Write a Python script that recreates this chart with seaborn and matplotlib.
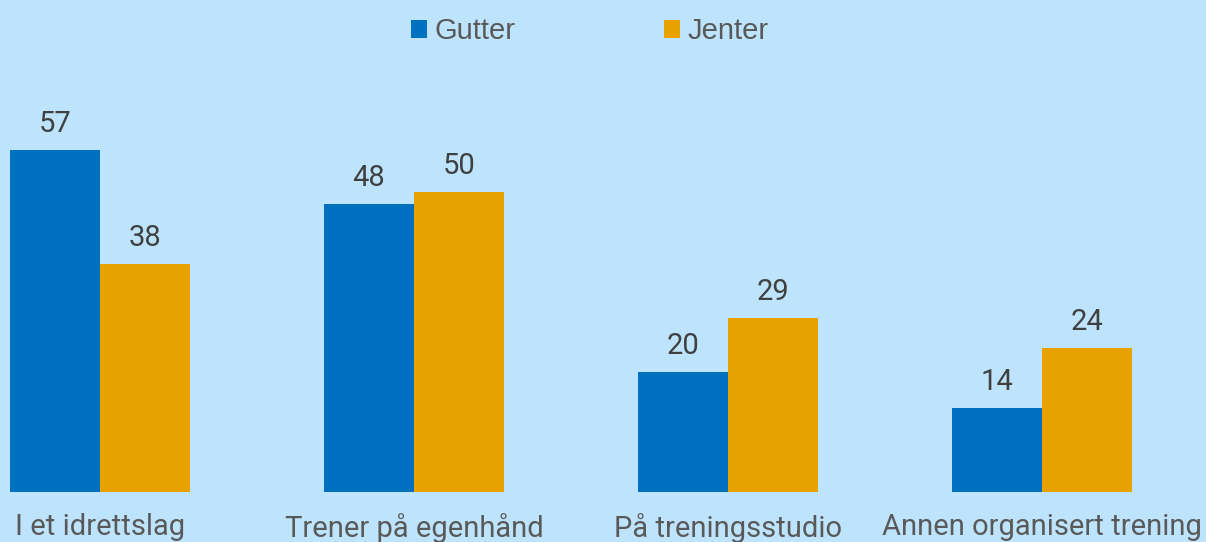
import matplotlib
matplotlib.use("Agg")
import matplotlib.pyplot as plt
from matplotlib.patches import Patch
import seaborn as sns
import pandas as pd

categories = ["I et idrettslag", "Trener på egenhånd", "På treningsstudio", "Annen organisert trening"]
gutter = [57, 48, 20, 14]
jenter = [38, 50, 29, 24]
series_names = ["Gutter", "Jenter"]

BG = "#BEE4FD"
COLORS = {"Gutter": "#0070C0", "Jenter": "#E8A200"}

df = pd.DataFrame({
    "kategori": categories * 2,
    "kjonn": [series_names[0]] * len(categories) + [series_names[1]] * len(categories),
    "prosent": gutter + jenter,
})

sns.set_theme(style="white")
plt.rcParams["font.family"] = ["Roboto", "DejaVu Sans"]

fig = plt.figure(figsize=(12.06, 5.42), dpi=100, facecolor=BG)
ax = fig.add_axes([0, 50 / 542, 1, 492 / 542])
ax.set_facecolor(BG)

sns.barplot(data=df, x="kategori", y="prosent", hue="kjonn", order=categories,
            hue_order=series_names, palette=COLORS, width=0.573, gap=0,
            linewidth=0, saturation=1, legend=False, errorbar=None, ax=ax)

for cont in ax.containers:
    for bar in cont:
        h = bar.get_height()
        ax.annotate(f"{h:.0f}", (bar.get_x() + bar.get_width() / 2, h),
                    xytext=(0, 13), textcoords="offset points",
                    ha="center", va="baseline", fontsize=21, color="#404040")

ax.set_xlim(-0.318, 3.522)
ax.set_ylim(0, 81.9)
ax.set_xlabel("")
ax.set_ylabel("")
ax.set_yticks([])
ax.tick_params(axis="x", length=0, pad=15, labelsize=21, labelcolor="#595959")
for s in ax.spines.values():
    s.set_visible(False)

handles = [Patch(facecolor=COLORS[n], edgecolor="none", label=n) for n in series_names]
fig.legend(handles=handles, loc="center", bbox_to_anchor=(0.489, 0.942), ncol=2,
           frameon=False, prop={"family": ["Liberation Sans", "DejaVu Sans"], "size": 21},
           labelcolor="#595959",
           handlelength=0.55, handleheight=0.55, handletextpad=0.25, columnspacing=5.1)

fig.savefig("out.png", dpi=100, facecolor=BG)
